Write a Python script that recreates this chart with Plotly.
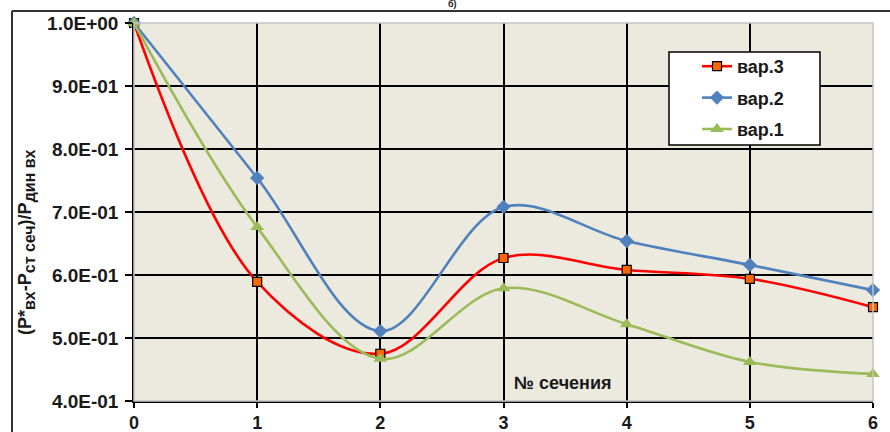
import plotly.graph_objects as go

# Section numbers along the duct
sections = [0, 1, 2, 3, 4, 5, 6]

# Relative pressure loss per variant
var3 = [1.000, 0.589, 0.475, 0.627, 0.608, 0.594, 0.549]
var2 = [1.000, 0.754, 0.511, 0.708, 0.654, 0.616, 0.576]
var1 = [1.000, 0.676, 0.467, 0.579, 0.522, 0.462, 0.443]

y_ticks = [0.4, 0.5, 0.6, 0.7, 0.8, 0.9, 1.0]
y_tick_text = ["4.0E-01", "5.0E-01", "6.0E-01", "7.0E-01", "8.0E-01", "9.0E-01", "1.0E+00"]

W, H = 890, 432
L, R, T, B = 134, 17, 23, 31
PW, PH = W - L - R, H - T - B


def px_x(p):
    return (p - L) / PW


def px_y(p):
    return (H - B - p) / PH


FONT = "Arial, Liberation Sans, sans-serif"
TXT = "#1a1a1a"

fig = go.Figure()

series = [
    ("вар.3", var3, "#ff0000", dict(symbol="square", size=9, color="#ff6600",
                                     line=dict(color="#000000", width=1.2))),
    ("вар.2", var2, "#4f81bd", dict(symbol="diamond", size=11, color="#4f81bd",
                                     line=dict(width=0))),
    ("вар.1", var1, "#9bbb59", dict(symbol="triangle-up", size=12, color="#9bbb59",
                                     line=dict(width=0))),
]

for name, vals, col, mk in series:
    fig.add_trace(go.Scatter(
        x=sections, y=vals, name=f"<b>{name}</b>", legendgroup=name,
        mode="lines+markers",
        line=dict(color=col, width=2.6, shape="spline", smoothing=1.0),
        marker=mk, cliponaxis=False,
    ))

shapes = [
    # plot frame (light top/right edges)
    dict(type="rect", xref="paper", yref="paper", x0=0, x1=1, y0=0, y1=1,
         line=dict(color="#c4c4c4", width=1.5), fillcolor="rgba(0,0,0,0)", layer="above"),
    # outer frame
    dict(type="line", xref="paper", yref="paper", x0=px_x(12), x1=px_x(892),
         y0=px_y(11), y1=px_y(11), line=dict(color="#333333", width=2)),
    dict(type="line", xref="paper", yref="paper", x0=px_x(12), x1=px_x(12),
         y0=px_y(11), y1=px_y(434), line=dict(color="#333333", width=2)),
    # legend box
    dict(type="rect", xref="paper", yref="paper", x0=px_x(669), x1=px_x(820),
         y0=px_y(145), y1=px_y(52), line=dict(color="#000000", width=1.5),
         fillcolor="#ffffff", layer="above"),
]

sub = '<sub><span style="font-size:16px">{}</span></sub>'
y_title = ("<b>(P*" + sub.format("вх") + "-P" + sub.format("ст сеч") + ")/P"
           + sub.format("дин вх") + "</b>")

annotations = [
    dict(text="<b>№ сечения</b>", xref="paper", yref="paper", x=px_x(563), y=px_y(383),
         showarrow=False, font=dict(family=FONT, size=18, color=TXT),
         xanchor="center", yanchor="middle"),
    dict(text="<b>б)</b>", xref="paper", yref="paper", x=px_x(452), y=px_y(11),
         showarrow=False, font=dict(family=FONT, size=9, color=TXT),
         xanchor="center", yanchor="bottom"),
    dict(text=y_title, xref="paper", yref="paper", x=px_x(27), y=px_y(242),
         showarrow=False, textangle=-90, font=dict(family=FONT, size=18, color=TXT),
         xanchor="center", yanchor="middle"),
]

fig.update_layout(
    width=W, height=H,
    margin=dict(l=L, r=R, t=T, b=B, pad=0, autoexpand=False),
    paper_bgcolor="#ffffff",
    plot_bgcolor="#ece9df",
    font=dict(family=FONT, size=18, color=TXT),
    showlegend=True,
    legend=dict(
        x=px_x(697), y=px_y(48), xanchor="left", yanchor="top",
        bgcolor="rgba(0,0,0,0)", borderwidth=0,
        font=dict(family=FONT, size=18, color=TXT),
        traceorder="grouped", tracegroupgap=5,
    ),
    xaxis=dict(
        range=[0, 6], tickvals=sections, ticktext=[f"<b>{s}</b>" for s in sections],
        showgrid=True, gridcolor="#000000", gridwidth=1.5,
        showline=True, linecolor="#000000", linewidth=1.5,
        ticks="outside", ticklen=5, tickwidth=1.5, tickcolor="#000000",
        zeroline=False, tickfont=dict(family=FONT, size=18, color=TXT),
        automargin=False,
    ),
    yaxis=dict(
        range=[0.4, 1.0], tickvals=y_ticks, ticktext=[f"<b>{t}</b>" for t in y_tick_text],
        showgrid=True, gridcolor="#000000", gridwidth=1.5,
        showline=True, linecolor="#000000", linewidth=1.5,
        ticks="outside", ticklen=7, tickwidth=1.5, tickcolor="#000000",
        zeroline=False, tickfont=dict(family=FONT, size=19, color=TXT),
        ticklabelstandoff=3, automargin=False,
    ),
    shapes=shapes,
    annotations=annotations,
)

fig.write_html("out.html")
